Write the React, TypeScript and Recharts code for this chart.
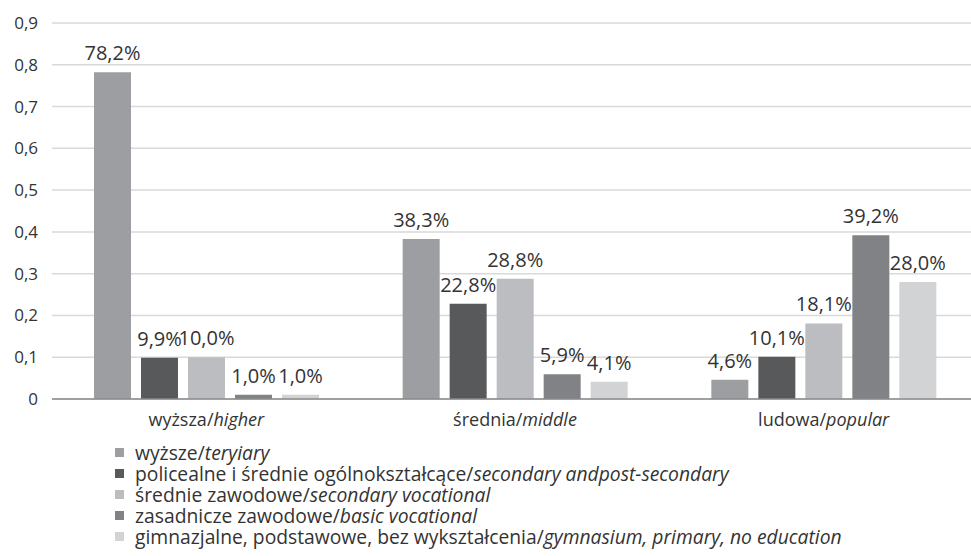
import { Bar, BarChart, CartesianGrid, LabelList, Legend, XAxis, YAxis } from "recharts";

const categories = [
  ["wyższa", "higher"],
  ["średnia", "middle"],
  ["ludowa", "popular"],
];

const seriesNames = [
  ["wyższe", "teryiary"],
  ["policealne i średnie ogólnokształcące", "secondary andpost-secondary"],
  ["średnie zawodowe", "secondary vocational"],
  ["zasadnicze zawodowe", "basic vocational"],
  ["gimnazjalne, podstawowe, bez wykształcenia", "gymnasium, primary, no education"],
];

const seriesColors = ["#9d9ea1", "#58595b", "#bcbdc0", "#808285", "#d1d3d4"];

const tertiary = [0.782, 0.383, 0.046];
const secondary = [0.099, 0.228, 0.101];
const vocational = [0.1, 0.288, 0.181];
const basicVocational = [0.01, 0.059, 0.392];
const primary = [0.01, 0.041, 0.28];

const yTicks = [0, 0.1, 0.2, 0.3, 0.4, 0.5, 0.6, 0.7, 0.8, 0.9];

const seriesValues = [tertiary, secondary, vocational, basicVocational, primary];

const data = categories.map((c, i) => {
  const row: Record<string, string | number> = { name: c[0] + "/" + c[1] };
  seriesValues.forEach((vals, s) => {
    row["s" + s] = vals[i];
  });
  return row;
});

const FONT = "'Open Sans', sans-serif";
const TEXT = "#333333";

const pct = (v: number) => (v * 100).toFixed(1).replace(".", ",") + "%";
const tickFmt = (v: number) => (v === 0 ? "0" : v.toFixed(1).replace(".", ","));

function CategoryTick(props: any) {
  const { x, y, payload } = props;
  const [roman, italic] = String(payload.value).split("/");
  return (
    <text x={x} y={y} dy={19} textAnchor="middle" fill={TEXT} fontSize={18} fontFamily={FONT}>
      <tspan>{roman}/</tspan>
      <tspan fontStyle="italic">{italic}</tspan>
    </text>
  );
}

function LegendList() {
  return (
    <div style={{ height: 105, fontFamily: FONT, fontSize: 19.3, lineHeight: "21px", color: TEXT }}>
      {seriesNames.map((n, i) => (
        <div key={i} style={{ height: 21, display: "flex", alignItems: "center", whiteSpace: "nowrap" }}>
          <span
            style={{
              display: "inline-block",
              width: 9,
              height: 9,
              background: seriesColors[i],
              marginLeft: 7,
              marginRight: 11,
            }}
          />
          <span style={{ lineHeight: "21px" }}>
            {n[0]}/<i>{n[1]}</i>
          </span>
        </div>
      ))}
    </div>
  );
}

export default function App() {
  return (
    <div
      style={{
        position: "absolute",
        left: 0,
        top: 0,
        width: 971,
        height: 556,
        overflow: "hidden",
        background: "#fff",
      }}
    >
      <BarChart
        width={980}
        height={556}
        data={data}
        margin={{ top: 23, right: 2, bottom: 22, left: 0 }}
        barSize={37}
        barGap={10}
      >
        <CartesianGrid vertical={false} stroke="#d9d9d9" strokeWidth={1.5} />
        <XAxis
          dataKey="name"
          height={30}
          tick={<CategoryTick />}
          tickLine={false}
          axisLine={{ stroke: "#8a8a8a", strokeWidth: 1.5 }}
          interval={0}
        />
        <YAxis
          width={52}
          domain={[0, 0.9]}
          ticks={yTicks}
          tickFormatter={tickFmt}
          tickLine={false}
          axisLine={false}
          tickMargin={8}
          tick={{ fill: TEXT, fontSize: 17, fontFamily: FONT }}
        />
        <Legend
          verticalAlign="bottom"
          content={<LegendList />}
          wrapperStyle={{ top: 442, left: 108, width: "auto", bottom: "auto" }}
        />
        {seriesValues.map((_, s) => (
          <Bar key={s} dataKey={"s" + s} fill={seriesColors[s]} isAnimationActive={false}>
            <LabelList
              dataKey={"s" + s}
              position="top"
              offset={12}
              formatter={(v: any) => pct(Number(v))}
              style={{ fill: TEXT, fontSize: 20, fontFamily: FONT }}
            />
          </Bar>
        ))}
      </BarChart>
    </div>
  );
}
